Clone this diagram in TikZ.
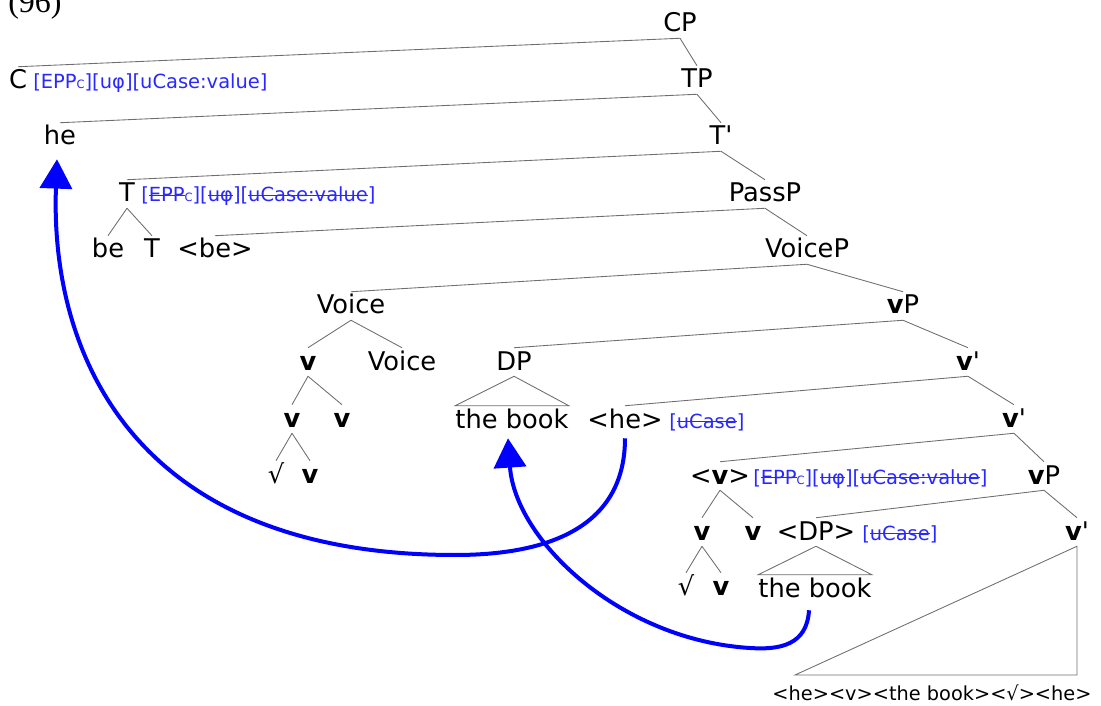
\documentclass[tikz,border=0pt]{standalone}
\usepackage{fontspec}
\setmainfont{DejaVu Sans}
\newfontfamily\exfont{Liberation Serif}
\usetikzlibrary{arrows.meta,calc}
\definecolor{featblue}{RGB}{40,40,255}
\definecolor{treegray}{RGB}{110,110,110}
\newsavebox\strkbox
\newcommand\strk[1]{\sbox\strkbox{#1}\rlap{\rule[0.3em]{\wd\strkbox}{0.07em}}\usebox\strkbox}
\newcommand\vv{\textbf{v}}
\newcommand\pr{\textquotesingle}
\newcommand\subc{{\fontsize{8.6}{9}\selectfont C}}
\tikzset{
  lab/.style={anchor=base, inner sep=0pt, font=\fontsize{19.3}{23}\selectfont,
              text height=16.5pt, text depth=4.5pt},
  small/.style={anchor=base, inner sep=0pt, font=\fontsize{14.5}{17}\selectfont,
              text height=13pt, text depth=3.5pt},
  feat/.style={anchor=base west, inner sep=0pt, font=\fontsize{14.6}{17}\selectfont, text=featblue},
  br/.style={draw=treegray, line width=0.65pt},
  mv/.style={draw=blue, line width=3pt, -{Triangle[length=22pt,width=24pt]}}
}
\begin{document}
\begin{tikzpicture}[x=0.75pt,y=-0.75pt]
\useasboundingbox (0,0) rectangle (1101,706);

\node[anchor=base west, inner sep=0pt, font=\exfont\fontsize{24}{28}\selectfont] (ex) at (8,13) {(96)};

% spine
\node[lab] (cp) at (680,32) {CP};
\node[lab] (c) at (18,89) {C};
\node[feat] (cfeat) at (33,89) {[EPP\subc][uφ][uCase:value]};
\node[lab] (tp) at (697,88) {TP};
\node[lab] (he) at (60,145) {he};
\node[lab] (tbar) at (721,145) {T\pr};
\node[lab] (thead) at (127,202) {T};
\node[feat] (tfeat) at (141,202) {[\strk{EPP}\subc][\strk{uφ}][\strk{uCase:value}]};
\node[lab] (passp) at (765,202) {PassP};
\node[lab] (be) at (108,258) {be};
\node[lab] (tlow) at (152,258) {T};
\node[lab] (betr) at (215,258) {<be>};
\node[lab] (voicep) at (807,258) {VoiceP};
\node[lab] (voice) at (351,314) {Voice};
\node[lab] (vp) at (903,314) {\vv P};
\node[lab] (va) at (308,370) {\vv};
\node[lab] (voiceh) at (402,370) {Voice};
\node[lab] (dp) at (514,370) {DP};
\node[lab] (vbara) at (968,370) {\vv\pr};
\node[lab] (vb) at (292,427) {\vv};
\node[lab] (vc) at (342,427) {\vv};
\node[lab] (booka) at (512,428) {the book};
\node[lab] (hetr) at (625,428) {<he>};
\node[feat] (hefeat) at (669,428) {[\strk{uCase}]};
\node[lab] (vbarb) at (1014,427) {\vv\pr};
\node[lab] (sqa) at (276,483) {√};
\node[lab] (vd) at (310,483) {\vv};
\node[lab] (vtr) at (720,484) {<\vv>};
\node[feat] (vfeat) at (753,484) {[\strk{EPP}\subc][\strk{uφ}][\strk{uCase:value}]};
\node[lab] (vpb) at (1044,484) {\vv P};
\node[lab] (ve) at (702,540) {\vv};
\node[lab] (vf) at (753,540) {\vv};
\node[lab] (dptr) at (816,540) {<DP>};
\node[feat] (dpfeat) at (862,540) {[\strk{uCase}]};
\node[lab] (vbarc) at (1077,540) {\vv\pr};
\node[lab] (sqb) at (686,595) {√};
\node[lab] (vg) at (721,595) {\vv};
\node[lab] (bookb) at (815,597) {the book};
\node[small] (rest) at (932,700) {<he><v><the book><√><he>};
\coordinate (tril) at (795,675);

% branches
\draw[br] (cp.south) -- (c.north);
\draw[br] (cp.south) -- (tp.north);
\draw[br] (tp.south) -- (he.north);
\draw[br] (tp.south) -- (tbar.north);
\draw[br] (tbar.south) -- (thead.north);
\draw[br] (tbar.south) -- (passp.north);
\draw[br] (thead.south) -- (be.north);
\draw[br] (thead.south) -- (tlow.north);
\draw[br] (passp.south) -- (betr.north);
\draw[br] (passp.south) -- (voicep.north);
\draw[br] (voicep.south) -- (voice.north);
\draw[br] (voicep.south) -- (vp.north);
\draw[br] (voice.south) -- (va.north);
\draw[br] (voice.south) -- (voiceh.north);
\draw[br] (va.south) -- (vb.north);
\draw[br] (va.south) -- (vc.north);
\draw[br] (vb.south) -- (sqa.north);
\draw[br] (vb.south) -- (vd.north);
\draw[br] (vp.south) -- (dp.north);
\draw[br] (vp.south) -- (vbara.north);
\draw[br] (dp.south) -- (booka.north west) -- (booka.north east) -- cycle;
\draw[br] (vbara.south) -- (hetr.north);
\draw[br] (vbara.south) -- (vbarb.north);
\draw[br] (vbarb.south) -- (vtr.north);
\draw[br] (vbarb.south) -- (vpb.north);
\draw[br] (vtr.south) -- (ve.north);
\draw[br] (vtr.south) -- (vf.north);
\draw[br] (ve.south) -- (sqb.north);
\draw[br] (ve.south) -- (vg.north);
\draw[br] (vpb.south) -- (dptr.north);
\draw[br] (vpb.south) -- (vbarc.north);
\draw[br] (dptr.south) -- (bookb.north west) -- (bookb.north east) -- cycle;
\draw[br] (vbarc.south) -- (tril) -- (tril -| vbarc.south) -- cycle;

% movement arrows
\draw[mv] ($(hetr.south)+(0,4)$) .. controls (625,520) and (560,555) .. (455,555)
  .. controls (130,555) and (50,350) .. ($(he.south)+(-3,8)$);
\draw[mv] ($(bookb.south)+(-6,7)$) .. controls (807,645) and (780,650) .. (750,648)
  .. controls (620,640) and (515,540) .. ($(booka.south)+(-4,4)$);
\end{tikzpicture}
\end{document}
